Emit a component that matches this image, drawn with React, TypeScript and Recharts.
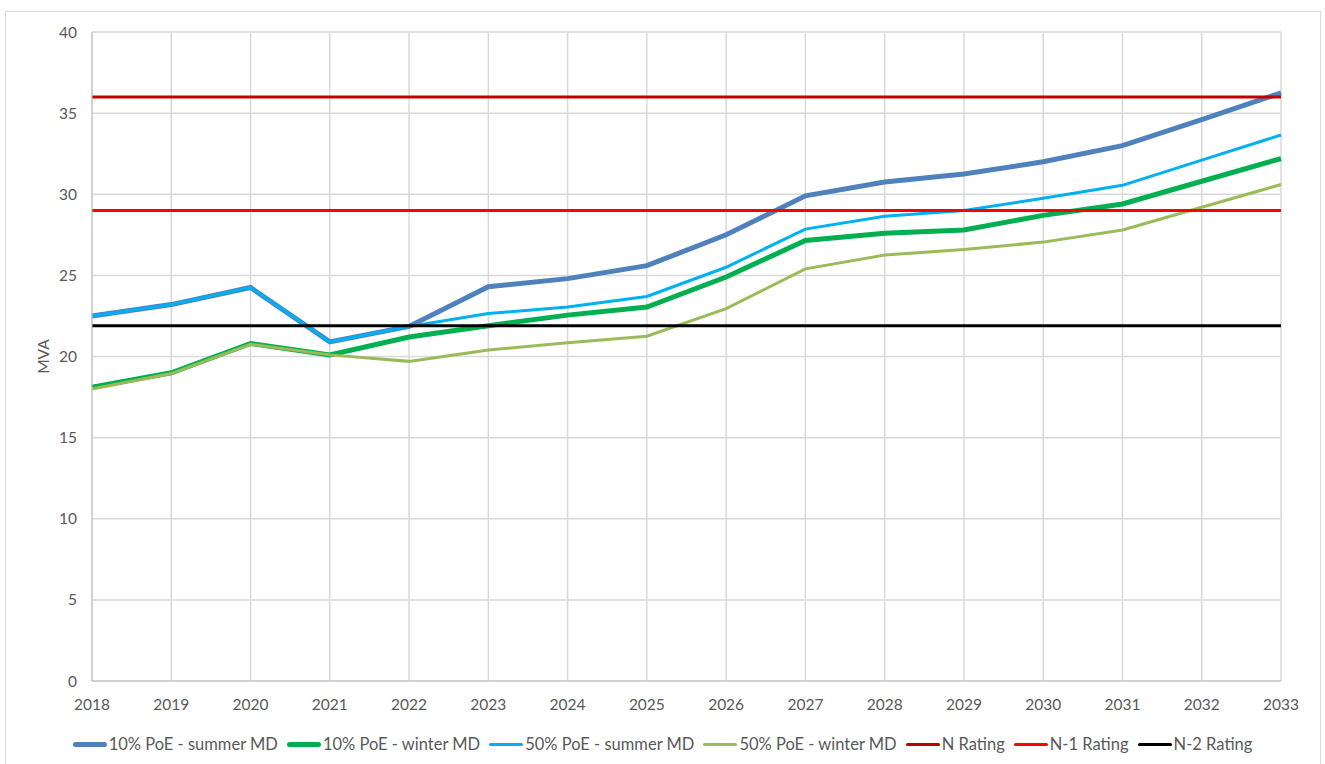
import { LineChart, Line, XAxis, YAxis, CartesianGrid, Legend } from "recharts";

const years = ["2018", "2019", "2020", "2021", "2022", "2023", "2024", "2025", "2026", "2027", "2028", "2029", "2030", "2031", "2032", "2033"];

const summer10 = [22.5, 23.2, 24.25, 20.9, 21.85, 24.3, 24.8, 25.6, 27.5, 29.9, 30.75, 31.25, 32.0, 33.0, 34.6, 36.25];
const winter10 = [18.1, 19.0, 20.8, 20.1, 21.2, 21.9, 22.55, 23.05, 24.9, 27.15, 27.6, 27.8, 28.7, 29.4, 30.8, 32.2];
const summer50 = [22.5, 23.2, 24.25, 20.9, 21.85, 22.65, 23.05, 23.7, 25.5, 27.85, 28.65, 29.0, 29.75, 30.55, 32.1, 33.65];
const winter50 = [18.0, 18.95, 20.75, 20.1, 19.7, 20.4, 20.85, 21.25, 22.95, 25.4, 26.25, 26.6, 27.05, 27.8, 29.2, 30.6];
const nRating = [36, 36, 36, 36, 36, 36, 36, 36, 36, 36, 36, 36, 36, 36, 36, 36];
const n1Rating = [29, 29, 29, 29, 29, 29, 29, 29, 29, 29, 29, 29, 29, 29, 29, 29];
const n2Rating = [21.9, 21.9, 21.9, 21.9, 21.9, 21.9, 21.9, 21.9, 21.9, 21.9, 21.9, 21.9, 21.9, 21.9, 21.9, 21.9];

const yTicks = [0, 5, 10, 15, 20, 25, 30, 35, 40];

const series = [
  { key: "s10", name: "10% PoE - summer MD", color: "#4F81BD", width: 5 },
  { key: "w10", name: "10% PoE - winter MD", color: "#00B050", width: 5 },
  { key: "s50", name: "50% PoE - summer MD", color: "#00B0F0", width: 3 },
  { key: "w50", name: "50% PoE - winter MD", color: "#9BBB59", width: 3 },
  { key: "n", name: "N Rating", color: "#C00000", width: 3 },
  { key: "n1", name: "N-1 Rating", color: "#FF0000", width: 3 },
  { key: "n2", name: "N-2 Rating", color: "#000000", width: 3 },
];

const data = years.map((year, i) => ({
  year,
  s10: summer10[i],
  w10: winter10[i],
  s50: summer50[i],
  w50: winter50[i],
  n: nRating[i],
  n1: n1Rating[i],
  n2: n2Rating[i],
}));

const FONT = "Lato, 'Open Sans', sans-serif";

function LegendRow() {
  return (
    <div style={{ display: "flex", justifyContent: "center", alignItems: "center", height: 40, fontFamily: FONT, fontSize: 16.5, color: "#595959" }}>
      {series.map((s, i) => (
        <div key={s.key} style={{ display: "flex", alignItems: "center", marginRight: i === series.length - 1 ? 0 : 9 }}>
          <span style={{ width: 34, height: s.width === 5 ? 5 : 3, background: s.color, borderRadius: 3, marginRight: 2 }} />
          <span>{s.name}</span>
        </div>
      ))}
    </div>
  );
}

export default function App() {
  return (
    <div style={{ position: "absolute", left: 0, top: 0, width: 1325, height: 764, background: "#fff", overflow: "hidden" }}>
      <div style={{ position: "absolute", left: 5, top: 11, width: 1314, height: 760, border: "1px solid #d9d9d9" }} />
      <LineChart width={1325} height={764} data={data} margin={{ top: 32, right: 44, left: 0, bottom: 0 }}>
        <CartesianGrid stroke="#d9d9d9" strokeWidth={1.5} />
        <XAxis
          dataKey="year"
          stroke="#bfbfbf"
          tickLine={false}
          tickMargin={12}
          tick={{ fill: "#595959", fontSize: 15.5, fontFamily: FONT }}
          height={43}
        />
        <YAxis
          domain={[0, 40]}
          ticks={yTicks}
          width={92}
          stroke="#bfbfbf"
          tickLine={false}
          tickMargin={9}
          tick={{ fill: "#595959", fontSize: 15.5, fontFamily: FONT }}
          label={{ value: "MVA", angle: -90, position: "insideLeft", offset: 43, style: { fill: "#595959", fontSize: 15.5, fontFamily: FONT, textAnchor: "middle" } }}
        />
        <Legend
          verticalAlign="bottom"
          height={40}
          wrapperStyle={{ left: 0, width: 1325 }}
          content={() => <LegendRow />}
        />
        {series.map((s) => (
          <Line
            key={s.key}
            type="linear"
            dataKey={s.key}
            name={s.name}
            stroke={s.color}
            strokeWidth={s.width}
            dot={false}
            activeDot={false}
            isAnimationActive={false}
          />
        ))}
      </LineChart>
    </div>
  );
}
